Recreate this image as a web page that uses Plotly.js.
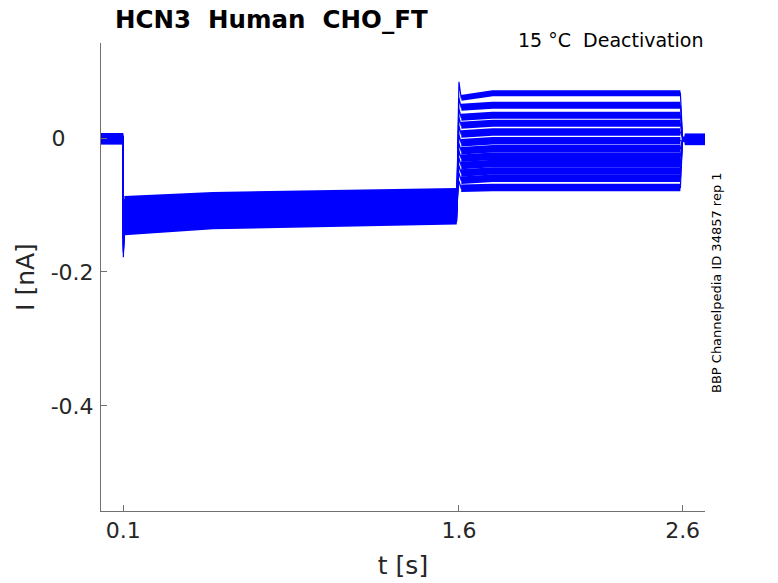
<!DOCTYPE html>
<html>
<head>
<meta charset="utf-8">
<script src="https://cdn.plot.ly/plotly-3.0.1.min.js"></script>
<style>html,body{margin:0;padding:0;background:#fff;}#chart{width:778px;height:583px;}</style>
</head>
<body>
<div id="chart"></div>
<script>
// Protocol knot times (s)
const knotTimes = [0, 0.099, 0.1, 0.105, 0.5, 1.59, 1.6, 1.61, 1.75, 2.59, 2.6, 2.61, 2.7];

// Per-sweep current levels (nA)
const baselinePre   = [-0.002, 0.001, -0.004, -0.001, 0.002, -0.003, 0.000, -0.002, 0.001, -0.004, -0.001, 0.002];
const onsetSpike1   = [-0.178, -0.160, -0.150, -0.172, -0.145, -0.165, -0.155, -0.170, -0.140, -0.168, -0.150, -0.160];
const step1Start    = [-0.118, -0.132, -0.105, -0.140, -0.098, -0.125, -0.112, -0.136, -0.092, -0.128, -0.108, -0.121];
const step1Mid      = [-0.110, -0.124, -0.098, -0.131, -0.091, -0.117, -0.104, -0.128, -0.086, -0.120, -0.101, -0.114];
const step1End      = [-0.104, -0.117, -0.093, -0.124, -0.085, -0.110, -0.098, -0.121, -0.080, -0.113, -0.095, -0.107];
const onsetSpike2   = [0.084, 0.060, 0.044, 0.031, 0.018, 0.005, -0.008, -0.019, -0.030, -0.041, -0.052, -0.064];
const step2Start    = [0.060, 0.046, 0.031, 0.019, 0.006, -0.007, -0.019, -0.030, -0.041, -0.052, -0.063, -0.075];
const step2Level    = [0.067, 0.049, 0.034, 0.022, 0.009, -0.004, -0.016, -0.027, -0.038, -0.049, -0.060, -0.074];
const baselinePost  = [-0.003, 0.000, -0.005, -0.002, 0.001, -0.004, -0.001, -0.003, 0.000, -0.005, -0.002, 0.001];

// Tick labels
const xTickVals = [0.1, 1.6, 2.6];
const xTickText = ['0.1', '1.6', '2.6'];
const yTickVals = [-0.4, -0.2, 0];
const yTickText = ['-0.4', '-0.2', '0\u00a0\u00a0\u00a0\u00a0'];

const BLUE = '#0000ff';
const traces = [];
for (let i = 0; i < step2Level.length; i++) {
  // thin continuous sweep (transitions and spikes)
  traces.push({
    type: 'scatter', mode: 'lines', showlegend: false, hoverinfo: 'skip',
    x: knotTimes.slice(),
    y: [baselinePre[i], baselinePre[i], onsetSpike1[i], step1Start[i], step1Mid[i], step1End[i],
        onsetSpike2[i], step2Start[i], step2Level[i], step2Level[i], baselinePost[i], baselinePost[i], baselinePost[i]],
    line: {color: BLUE, width: 1.2}
  });
  // thick plateaus to show the recorded noise band
  traces.push({
    type: 'scatter', mode: 'lines', showlegend: false, hoverinfo: 'skip',
    x: [knotTimes[0], knotTimes[1], null, knotTimes[3], knotTimes[4], knotTimes[5], null,
        knotTimes[7], knotTimes[8], knotTimes[9], null, knotTimes[11], knotTimes[12]],
    y: [baselinePre[i], baselinePre[i], null, step1Start[i], step1Mid[i], step1End[i], null,
        step2Start[i], step2Level[i], step2Level[i], null, baselinePost[i], baselinePost[i]],
    connectgaps: false,
    line: {color: BLUE, width: i === 0 ? 6 : (i < 4 ? 7 : 7.5)}
  });
}

const FONT = 'DejaVu Sans, Liberation Sans, sans-serif';
const TXT = '#262626';
const AX = '#707070';

const layout = {
  width: 778, height: 583,
  margin: {l: 101, r: 73, t: 43, b: 72},
  paper_bgcolor: '#fff', plot_bgcolor: '#fff',
  font: {family: FONT, color: TXT},
  showlegend: false,
  title: {
    text: '<b>HCN3\u00a0 Human\u00a0 CHO_FT</b>',
    font: {family: FONT, size: 24.5, color: '#000'},
    x: 115 / 778, xanchor: 'left', xref: 'container',
    y: 1 - 19 / 583, yanchor: 'middle', yref: 'container'
  },
  xaxis: {
    range: [0, 2.7], tickvals: xTickVals, ticktext: xTickText,
    ticks: 'inside', ticklen: 6, tickcolor: AX, tickwidth: 1,
    showline: true, linecolor: AX, linewidth: 1, mirror: false,
    showgrid: false, zeroline: false,
    tickfont: {family: FONT, size: 22, color: TXT},
    title: {text: 't [s]', font: {family: FONT, size: 25, color: TXT}, standoff: 14},
    automargin: false
  },
  yaxis: {
    range: [-0.557, 0.142], tickvals: yTickVals, ticktext: yTickText,
    ticks: 'inside', ticklen: 6, tickcolor: AX, tickwidth: 1,
    showline: true, linecolor: AX, linewidth: 1, mirror: false,
    showgrid: false, zeroline: false, ticklabelstandoff: 2,
    tickfont: {family: FONT, size: 22, color: TXT},
    title: {text: 'I [nA]', font: {family: FONT, size: 25, color: TXT}, standoff: 8},
    automargin: false
  },
  annotations: [
    {
      text: '15 °C\u00a0 Deactivation', xref: 'paper', yref: 'paper',
      x: 1, y: 1, xanchor: 'right', yanchor: 'middle', yshift: 3, showarrow: false,
      font: {family: FONT, size: 19, color: '#000'}
    },
    {
      text: 'BBP Channelpedia ID 34857 rep 1', xref: 'paper', yref: 'paper',
      x: 1 + 11 / 604, y: (511 - 283) / 468, xanchor: 'center', yanchor: 'middle',
      textangle: -90, showarrow: false,
      font: {family: FONT, size: 13, color: '#000'}
    }
  ]
};

Plotly.newPlot('chart', traces, layout, {displayModeBar: false, staticPlot: true});
</script>
</body>
</html>
